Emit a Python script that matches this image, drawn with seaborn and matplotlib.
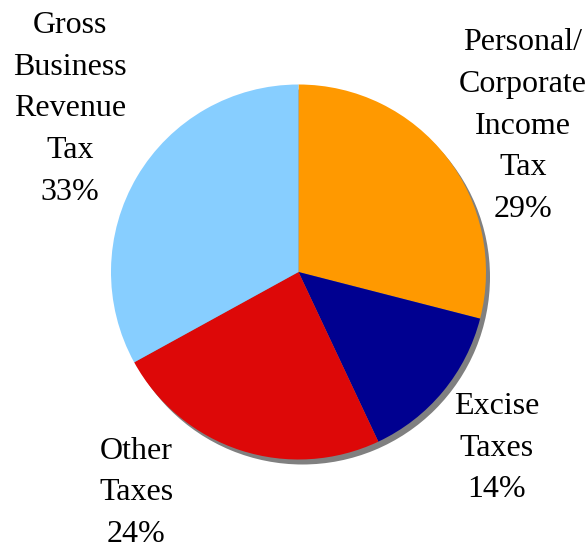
import matplotlib
matplotlib.use("Agg")
import matplotlib.pyplot as plt
import seaborn as sns

# Revenue shares by tax type
categories = ["Personal/\nCorporate\nIncome\nTax", "Excise\nTaxes", "Other\nTaxes",
              "Gross\nBusiness\nRevenue\nTax"]
shares = [29, 14, 24, 33]
colors = ["#FF9900", "#000090", "#DD0808", "#87CEFF"]

# label anchor points (pixels, y measured from the top)
label_x = [523, 497, 136, 70]
label_y = [126, 448, 493, 109]

sns.set_theme(style="white")
plt.rcParams["font.family"] = ["Liberation Serif", "DejaVu Serif"]

W, H = 587, 548
fig = plt.figure(figsize=(W / 100, H / 100), dpi=100)
ax = fig.add_axes([0, 0, 1, 1])

cx, cy, r = 298.5, H - 272, 187.5

# drop shadow
ax.pie([1], colors=["#808080"], radius=r, center=(cx + 4, cy - 5),
       wedgeprops=dict(linewidth=0), frame=True)
# slices, clockwise from twelve o'clock
ax.pie(shares, colors=colors, radius=r, center=(cx, cy), startangle=90,
       counterclock=False, wedgeprops=dict(linewidth=0), frame=True)
ax.set_xlim(0, W)
ax.set_ylim(0, H)
ax.set_aspect("equal")
ax.axis("off")

for name, val, x, y in zip(categories, shares, label_x, label_y):
    ax.text(x, H - y, f"{name}\n{val}%", ha="center", va="center",
            fontsize=23, linespacing=1.58, color="black")

fig.savefig("out.png", dpi=100)
